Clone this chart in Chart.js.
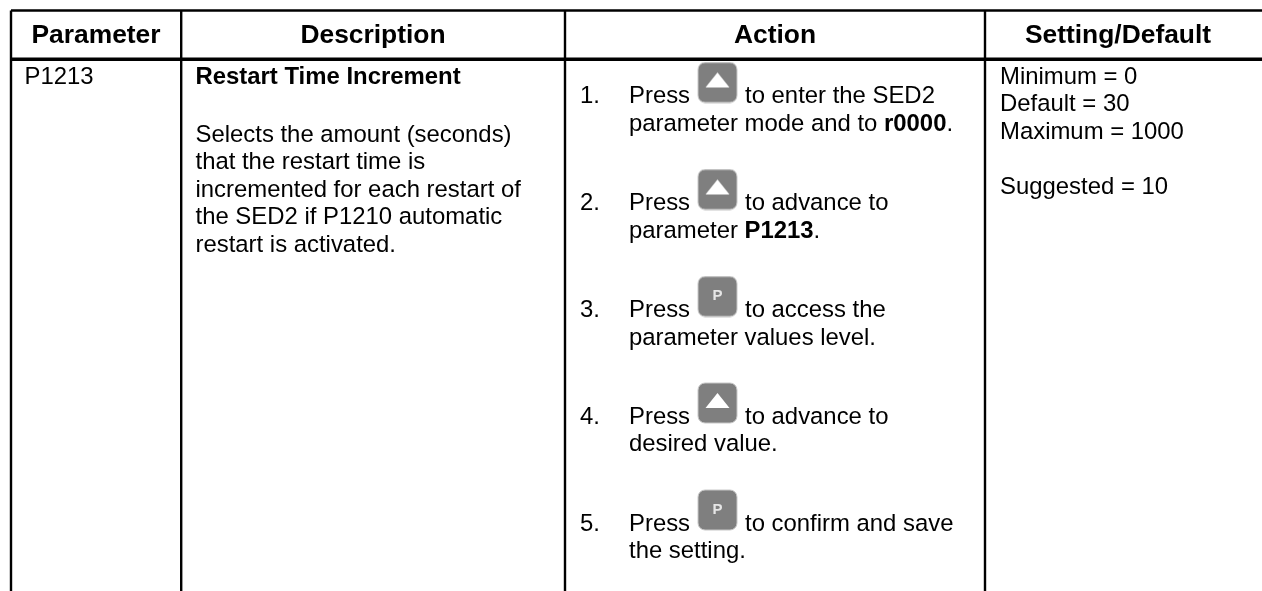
<!DOCTYPE html>
<html>
<head>
<meta charset="utf-8">
<title>P1213</title>
<script src="https://cdn.jsdelivr.net/npm/chart.js@4"></script>
<style>
html, body { margin: 0; background: #fff; }
canvas { display: block; }
</style>
</head>
<body>
<canvas id="tableChart" width="1262" height="591"></canvas>
<script>
// table content
const headers = ['Parameter', 'Description', 'Action', 'Setting/Default'];
const parameterText = ['P1213'];
const descriptionTitle = 'Restart Time Increment';
const descriptionLines = ['Selects the amount (seconds)', 'that the restart time is', 'incremented for each restart of', 'the SED2 if P1210 automatic', 'restart is activated.'];
const settingLines = ['Minimum = 0', 'Default = 30', 'Maximum = 1000', '', 'Suggested = 10'];
const stepNumbers = ['1.', '2.', '3.', '4.', '5.'];
const stepAfterButton = ['to enter the SED2', 'to advance to', 'to access the', 'to advance to', 'to confirm and save'];
const stepSecond = [
    [['parameter mode and to ', false], ['r0000', true], ['.', false]],
    [['parameter ', false], ['P1213', true], ['.', false]],
    [['parameter values level.', false]],
    [['desired value.', false]],
    [['the setting.', false]]
];
const stepButtons = ['up', 'up', 'P', 'up', 'P'];

// rules
const columnRules = [11, 181.2, 565, 985];
const rowRules = [10.5, 59.2];
const headerCenters = [96, 373, 775, 1118];
const stepRows = [103, 210, 317, 423.5, 530.5];
const pageRight = 1262;
const pageBottom = 591;

const ruleSets = [];
columnRules.forEach(x => {
    ruleSets.push({ type: 'line', data: [{ x: x, y: rowRules[0] }, { x: x, y: pageBottom }], borderColor: '#000', borderWidth: 2.4, pointRadius: 0 });
});
rowRules.forEach((y, i) => {
    ruleSets.push({ type: 'line', data: [{ x: columnRules[0], y: y }, { x: pageRight, y: y }], borderColor: '#000', borderWidth: i === 1 ? 3.6 : 2.4, pointRadius: 0 });
});

// button sprites used as point styles
function makeButton(withArrow) {
    const cv = document.createElement('canvas');
    cv.width = 41;
    cv.height = 42;
    const g = cv.getContext('2d');
    g.beginPath();
    g.roundRect(1, 1, 39, 40, 7);
    g.fillStyle = '#7f7f7f';
    g.fill();
    g.strokeStyle = '#c8c8c8';
    g.lineWidth = 1;
    g.stroke();
    if (withArrow) {
        g.beginPath();
        g.moveTo(20.5, 11);
        g.lineTo(32.5, 26);
        g.lineTo(8.5, 26);
        g.closePath();
        g.fillStyle = '#fff';
        g.fill();
    }
    return cv;
}
const upButton = makeButton(true);
const plainButton = makeButton(false);

const buttonX = 717.5;
const buttonSet = {
    type: 'scatter',
    data: stepRows.map(y => ({ x: buttonX, y: y - 20.5 })),
    pointStyle: stepButtons.map(b => (b === 'up' ? upButton : plainButton))
};

const BODY = '23.9px "Liberation Sans"';
const BODY_BOLD = 'bold 23.9px "Liberation Sans"';
const HEAD = 'bold 26.4px "Liberation Sans"';

const textPlugin = {
    id: 'tableText',
    afterDatasetsDraw(chart) {
        const c = chart.ctx;
        const px = v => chart.scales.x.getPixelForValue(v);
        const py = v => chart.scales.y.getPixelForValue(v);
        const put = (str, x, y, font, color) => {
            c.font = font;
            c.fillStyle = color || '#000';
            c.fillText(str, px(x), py(y));
        };
        c.save();
        c.textBaseline = 'alphabetic';
        c.textAlign = 'center';
        headers.forEach((h, i) => put(h, headerCenters[i], 42.7, HEAD));
        stepRows.forEach((y, i) => {
            if (stepButtons[i] === 'P') put('P', buttonX, y - 17, 'bold 15px "Liberation Sans"', '#e6e6e6');
        });
        c.textAlign = 'left';
        put(parameterText[0], 24.5, 84, BODY);
        put(descriptionTitle, 195.5, 83.5, BODY_BOLD);
        descriptionLines.forEach((l, i) => put(l, 195.5, 141.7 + i * 27.5, BODY));
        settingLines.forEach((l, i) => put(l, 1000, 83.5 + i * 27.5, BODY));
        stepRows.forEach((y, i) => {
            put(stepNumbers[i], 580, y, BODY);
            put('Press', 629, y, BODY);
            put(stepAfterButton[i], 745, y, BODY);
            let x = 629;
            stepSecond[i].forEach(part => {
                const font = part[1] ? BODY_BOLD : BODY;
                put(part[0], x, y + 27.5, font);
                c.font = font;
                x += c.measureText(part[0]).width;
            });
        });
        c.restore();
    }
};

new Chart(document.getElementById('tableChart').getContext('2d'), {
    data: { datasets: [...ruleSets, buttonSet] },
    plugins: [textPlugin],
    options: {
        responsive: false,
        animation: false,
        layout: { padding: 0, autoPadding: false },
        plugins: { legend: { display: false }, tooltip: { enabled: false } },
        scales: {
            x: { type: 'linear', min: 0, max: 1262, display: false },
            y: { type: 'linear', min: 0, max: 591, reverse: true, display: false }
        }
    }
});
</script>
</body>
</html>
